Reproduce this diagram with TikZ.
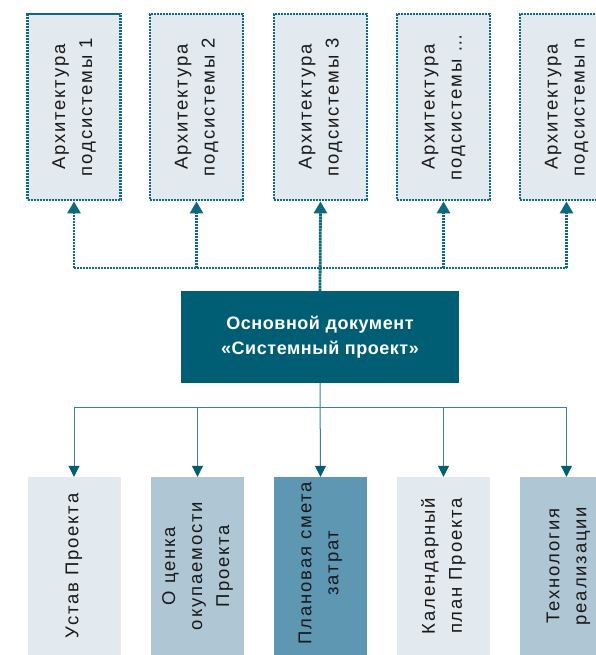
\documentclass[tikz,border=0pt]{standalone}
\usepackage{fontspec}
\setmainfont{Liberation Sans}
\newfontfamily\lblfont{Liberation Sans}[LetterSpace=10]
\newfontfamily\mainfont{Liberation Sans}[LetterSpace=3]
\usetikzlibrary{arrows.meta}
\definecolor{tealdark}{HTML}{005E74}
\definecolor{tealline}{HTML}{0D6880}
\definecolor{boxlight}{HTML}{E2E9EF}
\definecolor{boxmid}{HTML}{AFC7D4}
\definecolor{boxdark}{HTML}{5E97B1}
\definecolor{thinline}{HTML}{3F7F95}
\tikzset{
  topbox/.style={draw=tealline, fill=boxlight, line width=2.8pt, dash pattern=on 2.4pt off 0.6pt,
    minimum width=93pt, minimum height=186pt, inner sep=0pt},
  botbox/.style={draw=none, minimum width=93pt, minimum height=178pt, inner sep=0pt},
  lbl/.style={rotate=90, align=center, text=black!90, font=\lblfont\fontsize{18.5}{27}\selectfont, inner sep=0pt},
  topcon/.style={draw=tealline, line width=2.8pt, dash pattern=on 2.4pt off 0.6pt},
  toparrow/.style={topcon, -{Triangle[width=13pt,length=12pt]}},
  botcon/.style={draw=thinline, line width=1pt},
  botarrow/.style={botcon, -{Triangle[width=11pt,length=11pt,color=tealdark]}},
  mainbox/.style={fill=tealdark, draw=none, minimum width=278pt, minimum height=92pt, inner sep=0pt,
    text=white, align=center, font=\mainfont\bfseries\fontsize{18}{25}\selectfont}
}
\begin{document}
\begin{tikzpicture}[x=1pt, y=-1pt]
\clip (0,0) rectangle (596,655);
\fill[white] (0,0) rectangle (596,655);
% top boxes
\node[topbox] (b1) at (74,107) {};
\node[topbox] (b2) at (196.5,107) {};
\node[topbox] (b3) at (320.5,107) {};
\node[topbox] (b4) at (443.5,107) {};
\node[topbox] (b5) at (566.5,107) {};
\node[lbl] (t1) at (b1.center) {Архитектура\\подсистемы 1};
\node[lbl] (t2) at (b2.center) {Архитектура\\подсистемы 2};
\node[lbl] (t3) at (b3.center) {Архитектура\\подсистемы 3};
\node[lbl] (t4) at (b4.center) {Архитектура\\подсистемы …};
\node[lbl] (t5) at (b5.center) {Архитектура\\подсистемы n};
% main box
\node[mainbox] (main) at (320,337) {Основной документ\\«Системный проект»};
% bottom boxes
\node[botbox, fill=boxlight] (c1) at (74,566) {};
\node[botbox, fill=boxmid] (c2) at (197.5,566) {};
\node[botbox, fill=boxdark] (c3) at (320.5,566) {};
\node[botbox, fill=boxlight] (c4) at (443.5,566) {};
\node[botbox, fill=boxmid] (c5) at (566.5,566) {};
\node[lbl] (u1) at (c1.center) {Устав Проекта};
\node[lbl] (u2) at (c2.center) {О ценка\\окупаемости\\Проекта};
\node[lbl] (u3) at ([yshift=3pt]c3.center) {Плановая смета\\затрат};
\node[lbl] (u4) at (c4.center) {Календарный\\план Проекта};
\node[lbl] (u5) at ([xshift=2pt]c5.center) {Технология\\реализации};
% top connectors
\coordinate (tj) at (320,268);
\draw[topcon] (b1.south |- tj) -- (b5.south |- tj);
\draw[toparrow] (main.north) -- (b3.south);
\draw[toparrow] (b1.south |- tj) -- (b1.south);
\draw[toparrow] (b2.south |- tj) -- (b2.south);
\draw[toparrow] (b4.south |- tj) -- (b4.south);
\draw[toparrow] (b5.south |- tj) -- (b5.south);
% bottom connectors
\coordinate (bj) at (320,407);
\draw[botcon] (c1.north |- bj) -- (c5.north |- bj);
\draw[botarrow] (main.south) -- (c3.north);
\draw[botarrow] (c1.north |- bj) -- (c1.north);
\draw[botarrow] (c2.north |- bj) -- (c2.north);
\draw[botarrow] (c4.north |- bj) -- (c4.north);
\draw[botarrow] (c5.north |- bj) -- (c5.north);
\end{tikzpicture}
\end{document}
